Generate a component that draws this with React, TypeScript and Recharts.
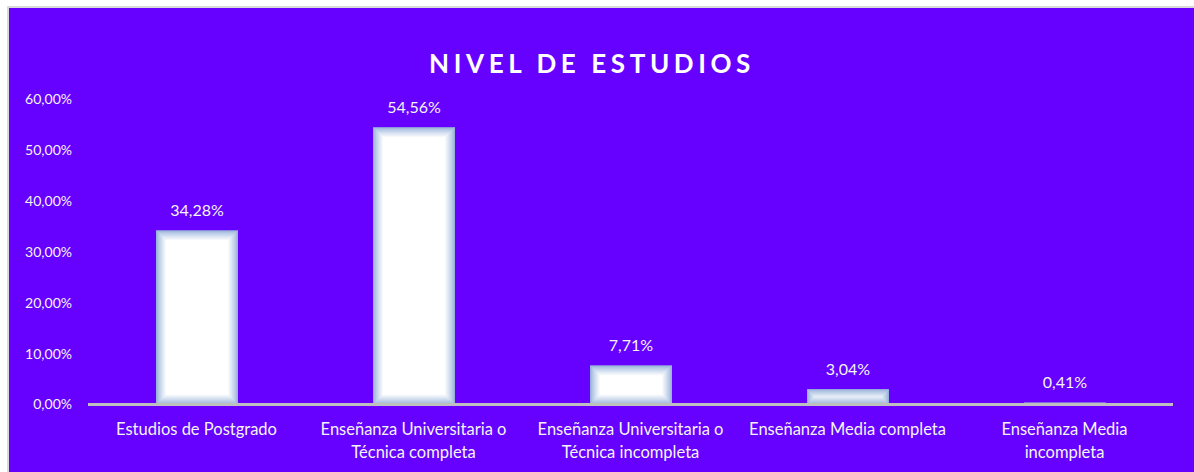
import { BarChart, Bar, XAxis, YAxis, LabelList } from 'recharts'

const categories = [
  'Estudios de Postgrado',
  'Enseñanza Universitaria o Técnica completa',
  'Enseñanza Universitaria o Técnica incompleta',
  'Enseñanza Media completa',
  'Enseñanza Media incompleta',
]
const shares = [0.3428, 0.5456, 0.0771, 0.0304, 0.0041]
const yTicks = [0, 0.1, 0.2, 0.3, 0.4, 0.5, 0.6]
const title = 'NIVEL DE ESTUDIOS'

const data = categories.map((name, i) => ({ name, value: shares[i] }))

const FONT = 'Lato, "Noto Sans", sans-serif'
const TEXT = '#f4f4f4'

const pct = (v: number) => `${(v * 100).toFixed(2).replace('.', ',')}%`

// greedy word wrap, ~25 chars a line
function wrap(s: string, max = 25) {
  const lines: string[] = []
  let cur = ''
  for (const w of s.split(' ')) {
    const next = cur ? `${cur} ${w}` : w
    if (next.length > max && cur) {
      lines.push(cur)
      cur = w
    } else cur = next
  }
  if (cur) lines.push(cur)
  return lines
}

function CategoryTick({ x, y, payload }: any) {
  const lines = wrap(payload.value)
  return (
    <text x={x} y={y} textAnchor="middle" fill={TEXT} fontSize={16.5} fontFamily={FONT}>
      {lines.map((l, i) => (
        <tspan key={i} x={x} dy={i === 0 ? 22 : 23}>
          {l}
        </tspan>
      ))}
    </text>
  )
}

const edge = [150, 177, 218]
function mix(t: number) {
  const c = edge.map((e) => Math.round(e + (255 - e) * t))
  return `rgb(${c[0]},${c[1]},${c[2]})`
}

// white bar with a soft bluish inner glow
function GlowBar({ x, y, width, height }: any) {
  if (!height || height <= 0) return null
  const steps = 10
  const rects = []
  for (let i = 0; i <= steps; i++) {
    const w = width - 2 * i
    const h = height - 2 * i
    if (w <= 0 || h <= 0) break
    const t = Math.pow(i / steps, 0.8)
    rects.push(<rect key={i} x={x + i} y={y + i} width={w} height={h} fill={mix(t)} />)
  }
  return <g>{rects}</g>
}

export default function App() {
  return (
    <div
      style={{
        position: 'fixed',
        left: 7,
        top: 6,
        width: 1200,
        height: 480,
        background: '#6600ff',
        borderTop: '2px solid #d9d9d9',
        borderLeft: '2px solid #d9d9d9',
      }}
    >
      <div
        style={{
          position: 'absolute',
          left: 0,
          width: 1166,
          top: 39,
          textAlign: 'center',
          color: '#ffffff',
          fontFamily: FONT,
          fontWeight: 700,
          fontSize: 26,
          letterSpacing: 4.6,
        }}
      >
        {title}
      </div>
      <BarChart
        width={1190}
        height={470}
        data={data}
        margin={{ top: 91.5, right: 26, bottom: 13.5, left: 19 }}
        barCategoryGap="31%"
      >
        <XAxis
          dataKey="name"
          interval={0}
          height={60}
          tickLine={false}
          axisLine={{ stroke: '#bfbfbf', strokeWidth: 3 }}
          tick={<CategoryTick />}
        />
        <YAxis
          domain={[0, 0.6]}
          ticks={yTicks}
          width={60}
          axisLine={false}
          tickLine={false}
          tickSize={0}
          tickMargin={16}
          tickFormatter={pct}
          tick={{ fill: TEXT, fontSize: 14, fontFamily: FONT }}
        />
        <Bar dataKey="value" barSize={82} shape={<GlowBar />} isAnimationActive={false}>
          <LabelList
            dataKey="value"
            position="top"
            offset={14}
            formatter={(v: any) => pct(Number(v))}
            fill={TEXT}
            fontSize={16}
            fontFamily={FONT}
          />
        </Bar>
      </BarChart>
    </div>
  )
}
